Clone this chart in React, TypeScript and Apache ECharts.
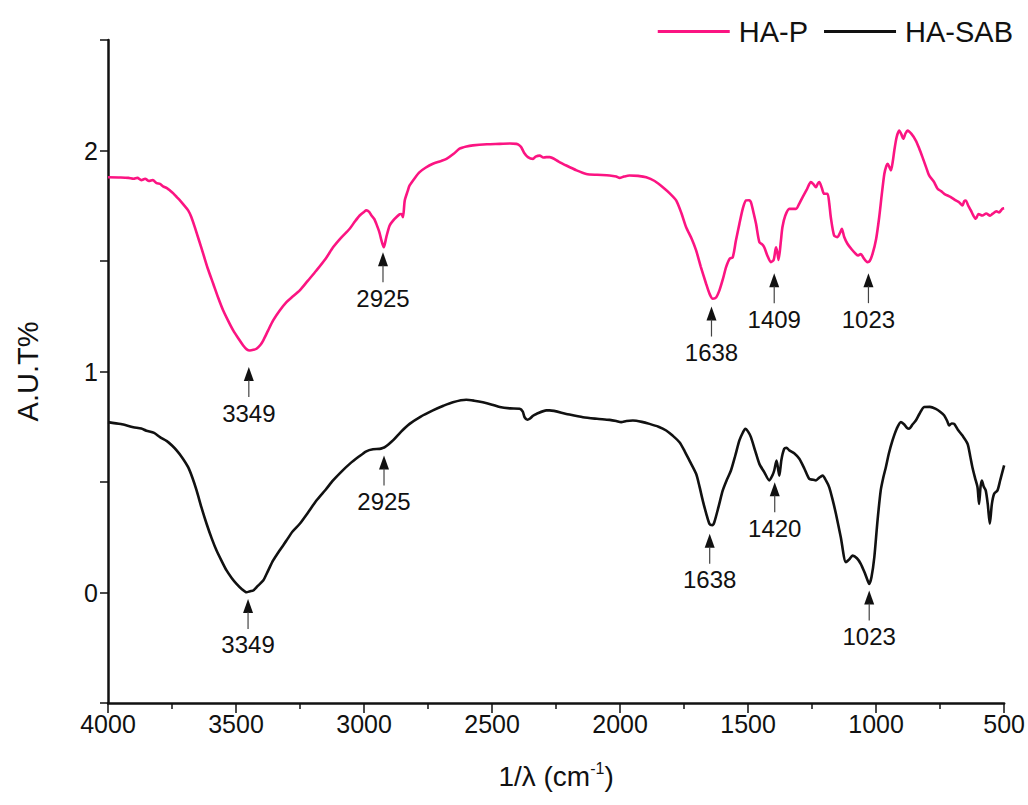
import React, { useEffect, useRef } from "react";
import * as echarts from "echarts";

// FTIR spectra: [wavenumber (cm-1), offset transmittance]
const haP: [number, number][] = [
  [4000, 1.879], [3950, 1.878], [3920, 1.876], [3900, 1.872], [3885, 1.876], [3870, 1.866],
  [3855, 1.872], [3840, 1.862], [3825, 1.866], [3810, 1.852], [3797, 1.849], [3785, 1.838],
  [3770, 1.830], [3758, 1.819], [3745, 1.806], [3732, 1.79], [3719, 1.774], [3705, 1.755],
  [3687, 1.729], [3675, 1.7], [3661, 1.653], [3645, 1.595], [3628, 1.532], [3610, 1.465],
  [3589, 1.397], [3570, 1.335], [3550, 1.276], [3530, 1.228], [3511, 1.186], [3490, 1.148],
  [3472, 1.118], [3458, 1.1], [3446, 1.095], [3432, 1.098], [3420, 1.103], [3405, 1.12],
  [3394, 1.14], [3375, 1.185], [3355, 1.231], [3330, 1.275], [3303, 1.314], [3280, 1.338],
  [3251, 1.367], [3220, 1.41], [3186, 1.457], [3150, 1.51], [3121, 1.562], [3090, 1.605],
  [3056, 1.646], [3035, 1.68], [3017, 1.706], [3000, 1.722], [2991, 1.729], [2980, 1.722],
  [2971, 1.706], [2960, 1.69], [2952, 1.668], [2940, 1.63], [2932, 1.593], [2923, 1.562],
  [2913, 1.608], [2900, 1.661], [2885, 1.685], [2874, 1.698], [2860, 1.712], [2854, 1.713],
  [2848, 1.698], [2841, 1.774], [2830, 1.815], [2822, 1.842], [2800, 1.878], [2783, 1.902],
  [2760, 1.922], [2731, 1.94], [2700, 1.952], [2678, 1.962], [2650, 1.985], [2627, 2.008],
  [2600, 2.018], [2575, 2.023], [2520, 2.028], [2470, 2.03], [2430, 2.032], [2405, 2.03],
  [2395, 2.025], [2386, 2.015], [2375, 1.99], [2360, 1.97], [2340, 1.962], [2330, 1.972],
  [2314, 1.977], [2300, 1.968], [2288, 1.97], [2275, 1.97], [2240, 1.95], [2210, 1.932],
  [2170, 1.91], [2132, 1.894], [2090, 1.89], [2041, 1.887], [2015, 1.882], [2002, 1.876],
  [1985, 1.882], [1963, 1.887], [1930, 1.885], [1898, 1.879], [1865, 1.862], [1833, 1.834],
  [1805, 1.805], [1781, 1.774], [1760, 1.715], [1742, 1.653], [1720, 1.6], [1703, 1.548],
  [1685, 1.475], [1664, 1.397], [1650, 1.35], [1638, 1.329], [1625, 1.335], [1612, 1.367],
  [1598, 1.42], [1586, 1.472], [1572, 1.51], [1560, 1.517], [1548, 1.59], [1534, 1.668],
  [1520, 1.74], [1508, 1.774], [1495, 1.775], [1489, 1.766], [1478, 1.715], [1469, 1.668],
  [1456, 1.585], [1445, 1.575], [1437, 1.562], [1425, 1.525], [1411, 1.495], [1400, 1.505],
  [1391, 1.562], [1386, 1.54], [1381, 1.505], [1372, 1.59], [1366, 1.653], [1355, 1.705],
  [1339, 1.736], [1313, 1.736], [1300, 1.76], [1287, 1.789], [1270, 1.825], [1255, 1.857],
  [1245, 1.848], [1235, 1.834], [1228, 1.85], [1222, 1.857], [1212, 1.83], [1203, 1.804],
  [1190, 1.804], [1183, 1.76], [1177, 1.698], [1164, 1.615], [1151, 1.608], [1140, 1.63],
  [1134, 1.646], [1125, 1.61], [1112, 1.578], [1095, 1.552], [1079, 1.532], [1070, 1.525],
  [1060, 1.532], [1048, 1.512], [1034, 1.495], [1025, 1.5], [1014, 1.532], [1000, 1.6],
  [988, 1.698], [978, 1.8], [968, 1.894], [960, 1.93], [955, 1.94], [948, 1.925],
  [942, 1.91], [935, 1.95], [929, 2.0], [920, 2.06], [910, 2.09], [902, 2.075],
  [894, 2.053], [885, 2.078], [877, 2.09], [862, 2.075], [845, 2.045], [832, 2.01],
  [819, 1.97], [805, 1.925], [793, 1.887], [775, 1.86], [760, 1.827], [745, 1.815],
  [734, 1.804], [710, 1.79], [689, 1.774], [675, 1.765], [663, 1.751], [656, 1.77],
  [650, 1.774], [640, 1.75], [630, 1.729], [620, 1.705], [611, 1.691], [600, 1.712],
  [585, 1.706], [570, 1.715], [555, 1.705], [546, 1.713], [530, 1.725], [520, 1.72],
  [507, 1.736], [500, 1.738],
];

const haSab: [number, number][] = [
  [4000, 0.771], [3950, 0.762], [3901, 0.748], [3870, 0.742], [3850, 0.732], [3820, 0.722],
  [3797, 0.703], [3770, 0.685], [3750, 0.665], [3732, 0.643], [3710, 0.61], [3687, 0.567],
  [3670, 0.518], [3654, 0.462], [3635, 0.385], [3615, 0.311], [3595, 0.245], [3576, 0.19],
  [3555, 0.14], [3537, 0.1], [3517, 0.066], [3498, 0.039], [3478, 0.016], [3459, 0.001],
  [3445, 0.006], [3433, 0.009], [3415, 0.03], [3394, 0.054], [3375, 0.098], [3355, 0.145],
  [3330, 0.19], [3303, 0.235], [3280, 0.275], [3251, 0.311], [3220, 0.36], [3186, 0.416],
  [3150, 0.465], [3121, 0.507], [3090, 0.545], [3056, 0.582], [3020, 0.615], [2991, 0.639],
  [2965, 0.648], [2939, 0.65], [2925, 0.655], [2919, 0.658], [2905, 0.67], [2887, 0.688],
  [2855, 0.728], [2822, 0.763], [2780, 0.795], [2731, 0.824], [2690, 0.845], [2653, 0.861],
  [2601, 0.872], [2570, 0.868], [2536, 0.861], [2500, 0.85], [2470, 0.839], [2430, 0.833],
  [2392, 0.831], [2380, 0.818], [2373, 0.793], [2362, 0.782], [2353, 0.786], [2340, 0.8],
  [2327, 0.808], [2288, 0.824], [2275, 0.824], [2210, 0.808], [2145, 0.793], [2090, 0.786],
  [2041, 0.781], [2015, 0.776], [1996, 0.771], [1975, 0.776], [1950, 0.778], [1915, 0.772],
  [1885, 0.763], [1850, 0.75], [1820, 0.733], [1795, 0.71], [1768, 0.68], [1748, 0.64],
  [1729, 0.597], [1703, 0.537], [1690, 0.48], [1677, 0.416], [1663, 0.355], [1651, 0.311],
  [1640, 0.305], [1632, 0.318], [1615, 0.39], [1599, 0.462], [1583, 0.51], [1567, 0.552],
  [1550, 0.62], [1534, 0.688], [1520, 0.725], [1511, 0.741], [1500, 0.728], [1489, 0.703],
  [1472, 0.64], [1456, 0.582], [1437, 0.545], [1417, 0.507], [1405, 0.53], [1398, 0.552],
  [1389, 0.597], [1383, 0.56], [1378, 0.529], [1370, 0.6], [1359, 0.65], [1350, 0.655],
  [1339, 0.643], [1320, 0.63], [1300, 0.605], [1280, 0.56], [1261, 0.514], [1245, 0.51],
  [1235, 0.507], [1222, 0.52], [1209, 0.529], [1195, 0.505], [1183, 0.476], [1170, 0.42],
  [1157, 0.356], [1138, 0.25], [1118, 0.137], [1105, 0.15], [1092, 0.167], [1075, 0.155],
  [1060, 0.13], [1045, 0.09], [1035, 0.06], [1027, 0.039], [1018, 0.07], [1007, 0.16],
  [995, 0.32], [982, 0.462], [972, 0.52], [962, 0.567], [950, 0.63], [936, 0.688],
  [920, 0.74], [903, 0.771], [890, 0.76], [880, 0.745], [871, 0.741], [858, 0.76],
  [845, 0.778], [830, 0.81], [812, 0.839], [790, 0.84], [767, 0.831], [750, 0.818],
  [734, 0.801], [722, 0.775], [715, 0.756], [705, 0.765], [695, 0.763], [680, 0.735],
  [663, 0.71], [643, 0.673], [633, 0.62], [624, 0.567], [614, 0.52], [604, 0.476],
  [598, 0.401], [592, 0.48], [587, 0.507], [580, 0.48], [572, 0.462], [564, 0.4],
  [556, 0.311], [548, 0.4], [539, 0.447], [526, 0.462], [515, 0.51], [500, 0.575],
];

// Peak markers: arrow tip position (wavenumber, value) and printed band label
const peakLabelsP = ["3349", "2925", "1638", "1409", "1023"];
const peakPosP = [3450, 2926, 1643, 1398, 1030];
const peakTipP = [1.02, 1.54, 1.294, 1.445, 1.445];

const peakLabelsSab = ["3349", "2925", "1638", "1420", "1023"];
const peakPosSab = [3453, 2922, 1650, 1396, 1027];
const peakTipSab = [-0.029, 0.62, 0.266, 0.499, 0.009];

const seriesNames = ["HA-P", "HA-SAB"];
const xTicks = { min: 500, max: 4000, step: 500 };
const yTicks = { min: -0.5, max: 2.5, step: 0.5 };

const FONT = "'Liberation Sans', Arial, Helvetica, sans-serif";
const PINK = "#fb1482";
const BLACK = "#111111";

function peakSeries(pos: number[], tip: number[], labels: string[]) {
  return {
    type: "custom",
    silent: true,
    z: 5,
    data: pos.map((w, i) => [w, tip[i]]),
    renderItem: (params: any, api: any) => {
      const [x, y] = api.coord([api.value(0), api.value(1)]);
      return {
        type: "group",
        children: [
          {
            type: "polygon",
            shape: { points: [[x, y], [x - 5, y + 14], [x + 5, y + 14]] },
            style: { fill: BLACK },
          },
          {
            type: "line",
            shape: { x1: x, y1: y + 13, x2: x, y2: y + 30 },
            style: { stroke: "#444", lineWidth: 1.2 },
          },
          {
            type: "text",
            x,
            y: y + 34,
            style: {
              text: labels[params.dataIndex],
              fontSize: 24,
              fontFamily: FONT,
              fill: BLACK,
              align: "center",
              verticalAlign: "top",
            },
          },
        ],
      };
    },
  };
}

export default function App() {
  const ref = useRef<HTMLDivElement>(null);

  useEffect(() => {
    if (!ref.current) return;
    const chart = echarts.init(ref.current, undefined, { renderer: "svg" });
    chart.setOption({
      animation: false,
      backgroundColor: "#ffffff",
      textStyle: { fontFamily: FONT },
      grid: { left: 108, right: 23, top: 40, bottom: 102, containLabel: false },
      legend: {
        data: seriesNames,
        right: 10,
        top: 12,
        icon: "rect",
        itemWidth: 72,
        itemHeight: 3,
        itemGap: 16,
        textStyle: { fontSize: 29, color: BLACK, fontFamily: FONT, padding: [0, 0, 0, 4] },
      },
      xAxis: {
        type: "value",
        inverse: true,
        min: xTicks.min,
        max: xTicks.max,
        interval: xTicks.step,
        name: "{a|1/λ (cm}{s|-1}{a|)}",
        nameLocation: "middle",
        nameGap: 56,
        nameTextStyle: {
          rich: {
            a: { fontSize: 28, fontFamily: FONT, color: BLACK, lineHeight: 34 },
            s: { fontSize: 16, fontFamily: FONT, color: BLACK, padding: [0, 0, 16, 0], lineHeight: 34 },
          },
        },
        axisLine: { onZero: false, lineStyle: { color: BLACK, width: 2.5 } },
        axisTick: { inside: false, length: 10, lineStyle: { color: BLACK, width: 1.5 } },
        minorTick: { show: true, splitNumber: 2, length: 6, lineStyle: { color: BLACK, width: 1.5 } },
        axisLabel: {
          fontSize: 25,
          color: BLACK,
          margin: 8,
          fontFamily: FONT,
          formatter: (v: number) => String(v),
        },
        splitLine: { show: false },
      },
      yAxis: {
        type: "value",
        min: yTicks.min,
        max: yTicks.max,
        interval: yTicks.step,
        name: "A.U.T%",
        nameLocation: "middle",
        nameRotate: 90,
        nameGap: 66,
        nameTextStyle: { fontSize: 29, color: BLACK, fontFamily: FONT },
        axisLine: { show: true, onZero: false, lineStyle: { color: BLACK, width: 2.5 } },
        axisTick: { show: true, inside: false, length: 8, lineStyle: { color: BLACK, width: 1.5 } },
        axisLabel: {
          fontSize: 25,
          color: BLACK,
          margin: 10,
          fontFamily: FONT,
          formatter: (v: number) => (Number.isInteger(v) ? String(v) : ""),
        },
        splitLine: { show: false },
      },
      series: [
        {
          name: seriesNames[0],
          type: "line",
          data: haP,
          showSymbol: false,
          smooth: 0.25,
          lineStyle: { color: PINK, width: 2.6 },
          itemStyle: { color: PINK },
          z: 3,
        },
        {
          name: seriesNames[1],
          type: "line",
          data: haSab,
          showSymbol: false,
          smooth: 0.25,
          lineStyle: { color: BLACK, width: 2.6 },
          itemStyle: { color: BLACK },
          z: 3,
        },
        peakSeries(peakPosP, peakTipP, peakLabelsP),
        peakSeries(peakPosSab, peakTipSab, peakLabelsSab),
      ],
    });
    return () => chart.dispose();
  }, []);

  return (
    <div
      ref={ref}
      style={{ position: "fixed", left: 0, top: 0, width: 1028, height: 805, background: "#fff" }}
    />
  );
}
